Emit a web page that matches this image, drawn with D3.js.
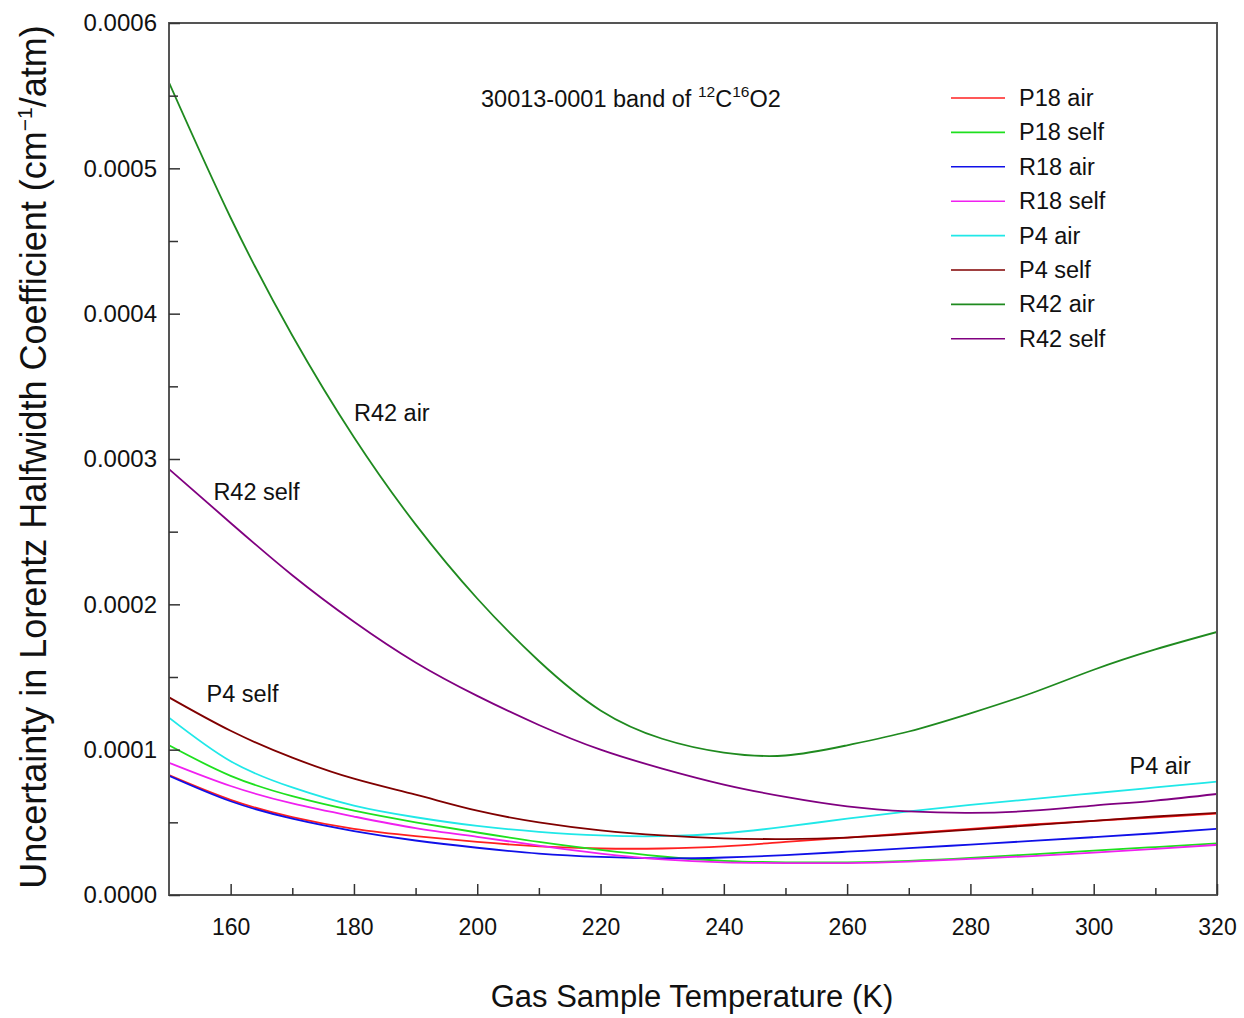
<!DOCTYPE html>
<html>
<head>
<meta charset="utf-8">
<script src="https://cdn.jsdelivr.net/npm/d3@7"></script>
<style>
  body { margin: 0; background: #fff; }
  text { font-family: "Liberation Sans", Arial, sans-serif; fill: #111; }
</style>
</head>
<body>
<script>
// temperatures (K)
var temps = [150,160,170,180,190,200,210,220,230,240,250,260,270,280,290,300,310,320];

// uncertainty values, units of 1e-4 cm-1/atm
var p18Air  = [0.825,0.655,0.535,0.455,0.405,0.365,0.335,0.32,0.32,0.335,0.365,0.395,0.425,0.455,0.485,0.51,0.535,0.56];
var p18Self = [1.03,0.82,0.68,0.58,0.50,0.43,0.365,0.31,0.265,0.235,0.225,0.225,0.235,0.255,0.28,0.305,0.33,0.355];
var r18Air  = [0.82,0.645,0.525,0.44,0.375,0.325,0.285,0.262,0.252,0.258,0.275,0.298,0.322,0.347,0.372,0.398,0.425,0.455];
var r18Self = [0.91,0.75,0.63,0.54,0.46,0.40,0.34,0.285,0.245,0.225,0.22,0.22,0.23,0.248,0.268,0.292,0.318,0.345];
var p4Air   = [1.22,0.92,0.74,0.615,0.535,0.475,0.435,0.41,0.405,0.425,0.47,0.525,0.575,0.62,0.66,0.70,0.74,0.78];
var p4Self  = [1.36,1.13,0.945,0.80,0.69,0.58,0.50,0.445,0.41,0.39,0.385,0.395,0.42,0.45,0.48,0.51,0.54,0.565];
var r42Air  = [5.59,4.66,3.85,3.15,2.55,2.04,1.61,1.27,1.075,0.98,0.96,1.03,1.125,1.25,1.39,1.55,1.69,1.81];
var r42Self = [2.93,2.56,2.20,1.88,1.60,1.37,1.17,1.00,0.87,0.76,0.675,0.61,0.575,0.565,0.58,0.615,0.65,0.695];

var names  = ["P18 air","P18 self","R18 air","R18 self","P4 air","P4 self","R42 air","R42 self"];
var colors = ["#ff2020","#1ee01e","#1010e8","#f020f0","#20e8e8","#800000","#1f8a1f","#800080"];
var seriesVals = [p18Air,p18Self,r18Air,r18Self,p4Air,p4Self,r42Air,r42Self];

var xTicks = [160,180,200,220,240,260,280,300,320];
var yTicks = [0,0.0001,0.0002,0.0003,0.0004,0.0005,0.0006];

var svg = d3.select("body").append("svg")
  .attr("width",1244)
  .attr("height",1018);

var margin = {top: 23, right: 27, bottom: 123, left: 169},
    width = 1244 - margin.left - margin.right,
    height = 1018 - margin.top - margin.bottom;

var g = svg.append("g").attr("transform","translate(" + margin.left + "," + margin.top + ")");

var x = d3.scaleLinear().domain([150,320]).range([0,width]);
var y = d3.scaleLinear().domain([0,0.0006]).range([height,0]);

var line = d3.line()
  .x(function(d){ return x(d.t); })
  .y(function(d){ return y(d.v); })
  .curve(d3.curveNatural);

var series = names.map(function(n,i){
  return {name:n, color:colors[i], values: temps.map(function(t,j){ return {t:t, v:seriesVals[i][j]*1e-4}; })};
});

g.append("clipPath").attr("id","clip")
  .append("rect").attr("width",width).attr("height",height);

g.append("g").attr("clip-path","url(#clip)")
  .selectAll("path")
  .data(series)
  .enter().append("path")
  .attr("fill","none")
  .attr("stroke",function(d){ return d.color; })
  .attr("stroke-width",1.8)
  .attr("d",function(d){ return line(d.values); });

// frame
g.append("rect")
  .attr("width",width).attr("height",height)
  .attr("fill","none").attr("stroke","#555").attr("stroke-width",2);

// x axis: ticks inside
var xAxis = g.append("g")
  .attr("transform","translate(0," + height + ")")
  .call(d3.axisBottom(x).tickValues(xTicks).tickSizeInner(-11).tickSizeOuter(0).tickPadding(0).tickFormat(d3.format("d")));
xAxis.select(".domain").remove();
xAxis.selectAll(".tick line").attr("stroke","#333").attr("stroke-width",1.5);
xAxis.selectAll("text").attr("y",40).attr("dy",null).style("font-size","23px").attr("fill","#111");

g.append("g")
  .attr("transform","translate(0," + height + ")")
  .call(d3.axisBottom(x).tickValues(d3.range(170,320,20)).tickSize(-7).tickFormat(""))
  .call(function(s){ s.select(".domain").remove(); s.selectAll("line").attr("stroke","#333").attr("stroke-width",1.5); });

// y axis
var yAxis = g.append("g")
  .call(d3.axisLeft(y).tickValues(yTicks).tickSizeInner(-11).tickSizeOuter(0).tickPadding(12).tickFormat(d3.format(".4f")));
yAxis.select(".domain").remove();
yAxis.selectAll(".tick line").attr("stroke","#333").attr("stroke-width",1.5);
yAxis.selectAll("text").style("font-size","24px").attr("fill","#111");

g.append("g")
  .call(d3.axisLeft(y).tickValues([0.00005,0.00015,0.00025,0.00035,0.00045,0.00055]).tickSize(-9).tickFormat(""))
  .call(function(s){ s.select(".domain").remove(); s.selectAll("line").attr("stroke","#333").attr("stroke-width",1.5); });

// axis titles
svg.append("text")
  .attr("x",692).attr("y",1007)
  .attr("text-anchor","middle")
  .style("font-size","31px")
  .text("Gas Sample Temperature (K)");

var yl = svg.append("text")
  .attr("transform","translate(46,457) rotate(-90)")
  .attr("text-anchor","middle")
  .style("font-size","36px");
yl.append("tspan").text("Uncertainty in Lorentz Halfwidth Coefficient (cm");
yl.append("tspan").attr("dy",-14).style("font-size","21px").text("\u22121");
yl.append("tspan").attr("dy",14).text("/atm)");

// band title
var bt = g.append("text")
  .attr("x",481 - margin.left).attr("y",107 - margin.top)
  .style("font-size","23.5px");
bt.append("tspan").text("30013-0001 band of ");
bt.append("tspan").attr("dy",-10).style("font-size","15.5px").text("12");
bt.append("tspan").attr("dy",10).text("C");
bt.append("tspan").attr("dy",-10).style("font-size","15.5px").text("16");
bt.append("tspan").attr("dy",10).text("O2");

// curve annotations
var notes = [
  {label:"R42 air", t:180, v:0.000326},
  {label:"R42 self", t:157.2, v:0.000272},
  {label:"P4 self", t:156.1, v:0.000133},
  {label:"P4 air", t:305.8, v:0.0000830}
];
g.selectAll(".note")
  .data(notes)
  .enter().append("text")
  .attr("class","note")
  .attr("x",function(d){ return x(d.t); })
  .attr("y",function(d){ return y(d.v); })
  .style("font-size","23.5px")
  .text(function(d){ return d.label; });

// legend
var legend = g.selectAll(".legend")
  .data(series)
  .enter().append("g")
  .attr("class","legend")
  .attr("transform",function(d,i){ return "translate(" + (951 - margin.left) + "," + (98 - margin.top + i*34.4) + ")"; });

legend.append("line")
  .attr("x1",0).attr("x2",54)
  .attr("stroke",function(d){ return d.color; })
  .attr("stroke-width",1.6);

legend.append("text")
  .attr("x",68).attr("y",8)
  .style("font-size","23.5px")
  .text(function(d){ return d.name; });
</script>
</body>
</html>
